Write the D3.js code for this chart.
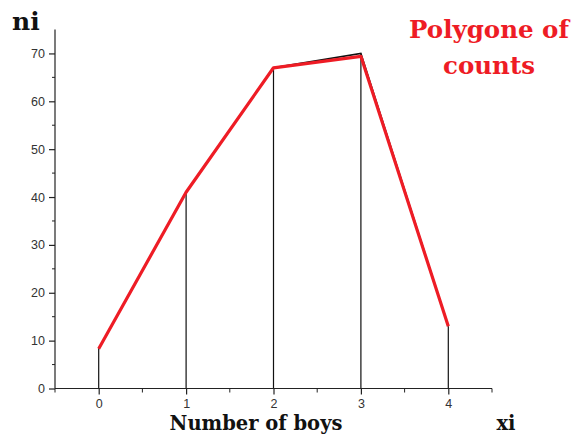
<!DOCTYPE html>
<html><head><meta charset="utf-8">
<script src="https://cdn.jsdelivr.net/npm/d3@7"></script>
<style>body{margin:0;background:#fff}svg{display:block}</style>
</head><body>
<svg id="c" width="576" height="437"></svg>
<script>
const xi = [0, 1, 2, 3, 4];
const niRed = [8.3, 41, 67, 69.4, 13];
const niBlack = [8.3, 41, 67, 70, 13];
const xTicks = [0, 1, 2, 3, 4];
const yTicks = [0, 10, 20, 30, 40, 50, 60, 70];

const svg = d3.select("#c");
const x = d3.scaleLinear().domain([-0.5, 4.5]).range([55, 492]);
const y = d3.scaleLinear().domain([0, 75]).range([388.5, 29.5]);

// vertical lines
svg.append("g").selectAll("line").data(xi).join("line")
  .attr("x1", d => x(d)).attr("x2", d => x(d))
  .attr("y1", y(0)).attr("y2", (d, i) => y(niBlack[i]))
  .attr("stroke", "#111").attr("stroke-width", 1.2);

// axes
const yAxis = d3.axisLeft(y).tickValues(yTicks).tickFormat(d3.format("d")).tickSize(6).tickPadding(4);
const gy = svg.append("g").attr("transform", "translate(55,0)").call(yAxis);
gy.select(".domain").attr("d", `M0,${y(0)}V${y(75)}`);
gy.append("g").selectAll("line").data(d3.range(5, 75, 10)).join("line")
  .attr("x1", -3).attr("x2", 0).attr("y1", d => y(d)).attr("y2", d => y(d)).attr("stroke", "#222");

const xAxis = d3.axisBottom(x).tickValues(xTicks).tickFormat(d3.format("d")).tickSize(6).tickPadding(5);
const gx = svg.append("g").attr("transform", `translate(0,${y(0)})`).call(xAxis);
gx.select(".domain").attr("d", `M${x(-0.5)},0H${x(4.5)}`);
gx.append("g").selectAll("line").data([-0.5, 0.5, 1.5, 2.5, 3.5, 4.5]).join("line")
  .attr("x1", d => x(d)).attr("x2", d => x(d)).attr("y1", 0).attr("y2", 4).attr("stroke", "#222");

[gx, gy].forEach(g => {
  g.selectAll(".domain, .tick line").attr("stroke", "#222").attr("stroke-width", 1.2);
  g.selectAll(".tick text").attr("font-family", "Liberation Sans, Arial, sans-serif")
    .attr("font-size", 12.5).attr("fill", "#333");
});

// black polygon
const line = d3.line().x((d, i) => x(xi[i])).y(d => y(d));
svg.append("path").datum(niBlack).attr("d", line)
  .attr("fill", "none").attr("stroke", "#111").attr("stroke-width", 1.5);
// red polygon
svg.append("path").datum(niRed).attr("d", line)
  .attr("fill", "none").attr("stroke", "#ee1c25").attr("stroke-width", 3.2)
  .attr("stroke-linejoin", "round");

// labels
const serif = "DejaVu Serif, Liberation Serif, serif";
svg.append("text").attr("x", 12).attr("y", 30).text("ni")
  .attr("font-family", serif).attr("font-weight", "bold").attr("font-size", 25).attr("fill", "#111");
svg.append("text").attr("x", 256).attr("y", 430).attr("text-anchor", "middle").text("Number of boys")
  .attr("font-family", serif).attr("font-weight", "bold").attr("font-size", 19.5).attr("fill", "#111");
svg.append("text").attr("x", 506).attr("y", 430).attr("text-anchor", "middle").text("xi")
  .attr("font-family", serif).attr("font-weight", "bold").attr("font-size", 19.5).attr("fill", "#111");
const t = svg.append("text").attr("text-anchor", "middle")
  .attr("font-family", serif).attr("font-weight", "bold").attr("font-size", 24.5).attr("fill", "#ee1c25");
t.append("tspan").attr("x", 489).attr("y", 38).text("Polygone of");
t.append("tspan").attr("x", 489).attr("y", 74).text("counts");
</script>
</body></html>
